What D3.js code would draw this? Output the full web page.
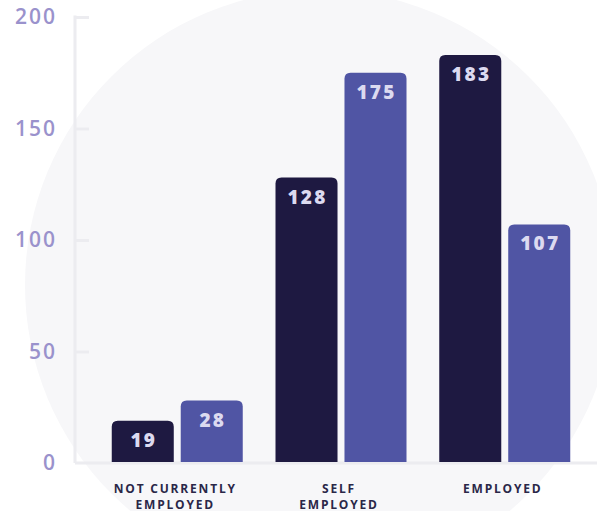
<!DOCTYPE html>
<html>
<head>
<meta charset="utf-8">
<script src="https://cdn.jsdelivr.net/npm/d3@7/dist/d3.min.js"></script>
<style>
  html, body { margin: 0; padding: 0; background: #ffffff; }
  svg { display: block; }
</style>
</head>
<body>
<svg id="chart" width="597" height="511"></svg>
<script>
// ---- data ----
const categories = ["NOT CURRENTLY EMPLOYED", "SELF EMPLOYED", "EMPLOYED"];
const categoryLines = [["NOT CURRENTLY", "EMPLOYED"], ["SELF", "EMPLOYED"], ["EMPLOYED"]];
const seriesNames = ["Series A", "Series B"];
const seriesA = [19, 128, 183];
const seriesB = [28, 175, 107];
const yTicks = [0, 50, 100, 150, 200];

// ---- setup ----
const W = 597, H = 511;
const svg = d3.select("#chart");
const colors = ["#1e1941", "#5055a4"];
const fontFam = "'Open Sans', 'Lato', sans-serif";

// background decorative circle
svg.append("circle")
  .attr("cx", 320).attr("cy", 285).attr("r", 295)
  .attr("fill", "#f7f7f9");

const y = d3.scaleLinear().domain([0, 200]).range([463, 17]);
const x0 = d3.scaleBand().domain(categories).range([79, 603]).paddingInner(0.2).paddingOuter(0.2);
const x1 = d3.scaleBand().domain(seriesNames).range([0, x0.bandwidth()]).paddingInner(0.101).paddingOuter(0);

// y axis
const yAxis = d3.axisLeft(y).tickValues(yTicks).tickSize(-14).tickPadding(0);
const gy = svg.append("g").attr("transform", "translate(75,0)").call(yAxis);
gy.select(".domain").remove();
gy.append("line").attr("x1", 0).attr("x2", 0).attr("y1", y(200) - 1.5).attr("y2", y(0))
  .attr("stroke", "#ececf0").attr("stroke-width", 3);
gy.selectAll(".tick line").attr("stroke", "#ececf0").attr("stroke-width", 3)
  .attr("x1", 0);
gy.selectAll(".tick text")
  .attr("x", -18)
  .attr("fill", "#9a92cc")
  .style("font-family", fontFam)
  .style("font-size", "21px")
  .style("letter-spacing", "2px")
  .style("font-weight", "600");
gy.selectAll(".tick").filter(d => d === 0).select("line").remove();

// x baseline
svg.append("line")
  .attr("x1", 75).attr("x2", W).attr("y1", y(0)).attr("y2", y(0))
  .attr("stroke", "#ececf0").attr("stroke-width", 3);

// bars
function topRounded(x, yTop, w, yBot, r) {
  r = Math.min(r, (yBot - yTop), w / 2);
  return `M${x},${yBot}V${yTop + r}Q${x},${yTop} ${x + r},${yTop}H${x + w - r}Q${x + w},${yTop} ${x + w},${yTop + r}V${yBot}Z`;
}

const rows = categories.map((c, i) => ({ cat: c, vals: [seriesA[i], seriesB[i]] }));
const groups = svg.append("g").selectAll("g").data(rows).join("g")
  .attr("transform", d => `translate(${x0(d.cat)},0)`);

groups.selectAll("path").data(d => d.vals.map((v, j) => ({ v, s: seriesNames[j], j })))
  .join("path")
  .attr("d", d => topRounded(x1(d.s), y(d.v), x1.bandwidth(), y(0) - 1, 6))
  .attr("fill", d => colors[d.j]);

groups.selectAll("text.val").data(d => d.vals.map((v, j) => ({ v, s: seriesNames[j], j })))
  .join("text").attr("class", "val")
  .attr("x", d => x1(d.s) + x1.bandwidth() / 2 + 1)
  .attr("y", d => y(d.v) + 26)
  .attr("text-anchor", "middle")
  .attr("fill", "#dcdaf0")
  .style("font-family", fontFam)
  .style("font-size", "19px")
  .style("font-weight", "800")
  .style("letter-spacing", "2.2px")
  .text(d => d.v);

// x labels
const xl = svg.append("g");
categories.forEach((c, i) => {
  const cx = x0(c) + x0.bandwidth() / 2 - 2;
  const t = xl.append("text")
    .attr("text-anchor", "middle")
    .attr("fill", "#2a2748")
    .style("font-family", fontFam)
    .style("font-size", "12px")
    .style("font-weight", "700")
    .style("letter-spacing", "1.8px");
  categoryLines[i].forEach((ln, k) => {
    t.append("tspan").attr("x", cx).attr("y", 493 + k * 16).text(ln);
  });
});
</script>
</body>
</html>
